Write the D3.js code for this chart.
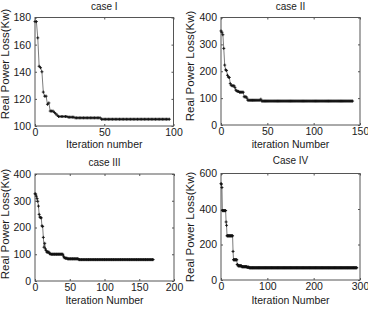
<!DOCTYPE html>
<html><head><meta charset="utf-8">
<script src="https://cdn.jsdelivr.net/npm/d3@7"></script>
<style>
html,body{margin:0;padding:0;background:#fff;}
svg{display:block;font-family:"Liberation Sans",Arial,sans-serif;}
</style></head>
<body><svg id="c" width="368" height="314"></svg>
<script>
const titles = ["case I", "case II", "case III", "Case IV"];
const xLabels = ["Iteration number", "iteration Number", "Iteration Number", "Iteration Number"];
const yLabel = "Real Power Loss(Kw)";

const caseI = [
177,177,165,144,143,140,125,122,122,116,
117,111,111,111,110,109,108,107,107,107,
107,107,107,107,106.5,106.5,106.5,106.5,106.5,106,
106,106,106,106,106,106,106,106,106,106,
106,106,106,106,106,106,106,106,105,105,
105,105,105,105,105,105,105,105,105,105,
105,105,105,105,105,105,105,105,105,105,
105,105,105,105,105,105,105,105,105,105,
105,105,105,105,105,105,105,105,105,105,
105,105,105,105,105,105,105,105
];
const caseII = [
350,345,336,285,223,205,203,185,178,177,
154,148,146,146,146,140,130,127,125,125,
122,122,122,122,122,105,105,105,100,92,
92,92,92,92,92,92,92,92,92,92,
92,92,92,96,89,89,89,89,89,89,
89,89,89,89,89,89,89,89,89,89,
89,89,89,89,89,89,89,89,89,89,
89,89,89,89,89,89,89,89,89,89,
89,89,89,89,89,89,89,89,89,89,
89,89,89,89,89,89,89,89,89,89,
89,89,89,89,89,89,89,89,89,89,
89,89,89,89,89,89,89,89,89,89,
89,89,89,89,89,89,89,89,89,89,
89,89,89,89,89,89,89,89,89,89,
89,89,89
];
const caseIII = [
326,325,317,308,298,280,249,239,237,236,
206,204,163,126,141,120,114,108,108,108,
108,102,102,100,100,100,100,100,100,100,
100,100,100,100,100,100,100,100,100,100,
100,93,87,87,85,85,85,83,83,83,
83,83,83,83,83,83,83,83,83,83,
83,83,83,80,80,80,80,80,80,80,
80,80,80,80,80,80,80,80,80,80,
80,80,80,80,80,80,80,80,80,80,
80,80,80,80,80,80,80,80,80,80,
80,80,80,80,80,80,80,80,80,80,
80,80,80,80,80,80,80,80,80,80,
80,80,80,80,80,80,80,80,80,80,
80,80,80,80,80,80,80,80,80,80,
80,80,80,80,80,80,80,80,80,80,
80,80,80,80,80,80,80,80,80,80,
80,80,80,80,80,80,80,80,80,80,
80
];
const caseIV = [
543,540,521,391,391,391,391,391,391,391,
391,327,308,249,249,249,249,249,249,249,
249,249,249,249,249,249,161,114,114,114,
114,114,114,114,114,87,87,80,80,80,
80,80,80,80,80,75,75,75,75,75,
75,75,75,75,75,75,72,72,72,72,
72,69,69,69,69,69,69,69,69,69,
69,69,69,69,69,69,69,69,69,69,
69,69,69,69,69,69,69,69,69,69,
69,69,69,69,69,69,69,69,69,69,
69,69,69,69,69,69,69,69,69,69,
69,69,69,69,69,69,69,69,69,69,
69,69,69,69,69,69,69,69,69,69,
69,69,69,69,69,69,69,69,69,69,
69,69,69,69,69,69,69,69,69,69,
69,69,69,69,69,69,69,69,69,69,
69,69,69,69,69,69,69,69,69,69,
69,69,69,69,69,69,69,69,69,69,
69,69,69,69,69,69,69,69,69,69,
69,69,69,69,69,69,69,69,69,69,
69,69,69,69,69,69,69,69,69,69,
69,69,69,69,69,69,69,69,69,69,
69,69,69,69,69,69,69,69,69,69,
69,69,69,69,69,69,69,69,69,69,
69,69,69,69,69,69,69,69,69,69,
69,69,69,69,69,69,69,69,69,69,
69,69,69,69,69,69,69,69,69,69,
69,69,69,69,69,69,69,69,69,69,
69,69,69,69,69,69,69,69,69,69,
69,69,69,69
];
const xTicksList = [[0,50,100],[0,50,100,150],[0,50,100,150,200],[0,100,200,300]];
const yTicksList = [[100,120,140,160,180],[0,100,200,300,400],[0,100,200,300,400],[0,200,400,600]];
const xDomains = [[0,100],[0,150],[0,200],[0,300]];
const yDomains = [[100,180],[0,400],[0,400],[0,600]];
const series = [caseI, caseII, caseIII, caseIV];

// layout (positions only)
const layout = [
  {l:35, r:173.5, t:17.5, b:126, titleY:10, xlY:148, ylX:9, ylY:64},
  {l:221, r:360, t:17.5, b:125, titleY:10, xlY:148, ylX:194, ylY:66},
  {l:35, r:174, t:174, b:281, titleY:166, xlY:304, ylX:9, ylY:224},
  {l:221, r:360, t:173.5, b:280, titleY:164, xlY:304, ylX:194, ylY:227}
];

const svg = d3.select("#c");
const txt = "#1a1a1a";

series.forEach((data, i) => {
  const L = layout[i];
  const x = d3.scaleLinear().domain(xDomains[i]).range([L.l, L.r]);
  const y = d3.scaleLinear().domain(yDomains[i]).range([L.b, L.t]);
  const g = svg.append("g");

  g.append("rect").attr("x", L.l).attr("y", L.t).attr("width", L.r - L.l).attr("height", L.b - L.t)
    .attr("fill", "none").attr("stroke", "#555").attr("stroke-width", 1);

  const ax = g.append("g").attr("transform", `translate(0,${L.b})`)
    .call(d3.axisBottom(x).tickValues(xTicksList[i]).tickSizeInner(-2).tickSizeOuter(0).tickPadding(3));
  const axT = g.append("g").attr("transform", `translate(0,${L.t})`)
    .call(d3.axisTop(x).tickValues(xTicksList[i]).tickSizeInner(-2).tickSizeOuter(0).tickFormat(""));
  const ay = g.append("g").attr("transform", `translate(${L.l},0)`)
    .call(d3.axisLeft(y).tickValues(yTicksList[i]).tickSizeInner(-2).tickSizeOuter(0).tickPadding(4));
  const ayR = g.append("g").attr("transform", `translate(${L.r},0)`)
    .call(d3.axisRight(y).tickValues(yTicksList[i]).tickSizeInner(-2).tickSizeOuter(0).tickFormat(""));
  [ax, axT, ay, ayR].forEach(a => {
    a.select(".domain").remove();
    a.selectAll("line").attr("stroke", "#555");
    a.selectAll("text").attr("font-size", 10.5).attr("fill", txt).attr("font-family", '"Liberation Sans",Arial,sans-serif');
  });

  const line = d3.line().x((d, k) => x(k)).y(d => y(d));
  g.append("path").datum(data).attr("d", line).attr("fill", "none")
    .attr("stroke", "#444").attr("stroke-width", 0.7);

  g.selectAll("path.m").data(data).enter().append("path").attr("class", "m")
    .attr("d", (d, k) => `M${x(k)-1.5},${y(d)}H${x(k)+1.5}M${x(k)},${y(d)-1.5}V${y(d)+1.5}`)
    .attr("stroke", "#111").attr("stroke-width", 0.9);

  g.append("text").attr("x", (L.l + L.r) / 2).attr("y", L.titleY).attr("text-anchor", "middle")
    .attr("font-size", 10).attr("fill", txt).text(titles[i]);
  g.append("text").attr("x", (L.l + L.r) / 2).attr("y", L.xlY).attr("text-anchor", "middle")
    .attr("font-size", 10.5).attr("fill", txt).text(xLabels[i]);
  g.append("text").attr("transform", `translate(${L.ylX},${L.ylY}) rotate(-90)`)
    .attr("text-anchor", "middle").attr("font-size", 11.5).attr("fill", txt).text(yLabel);
});
</script></body></html>
